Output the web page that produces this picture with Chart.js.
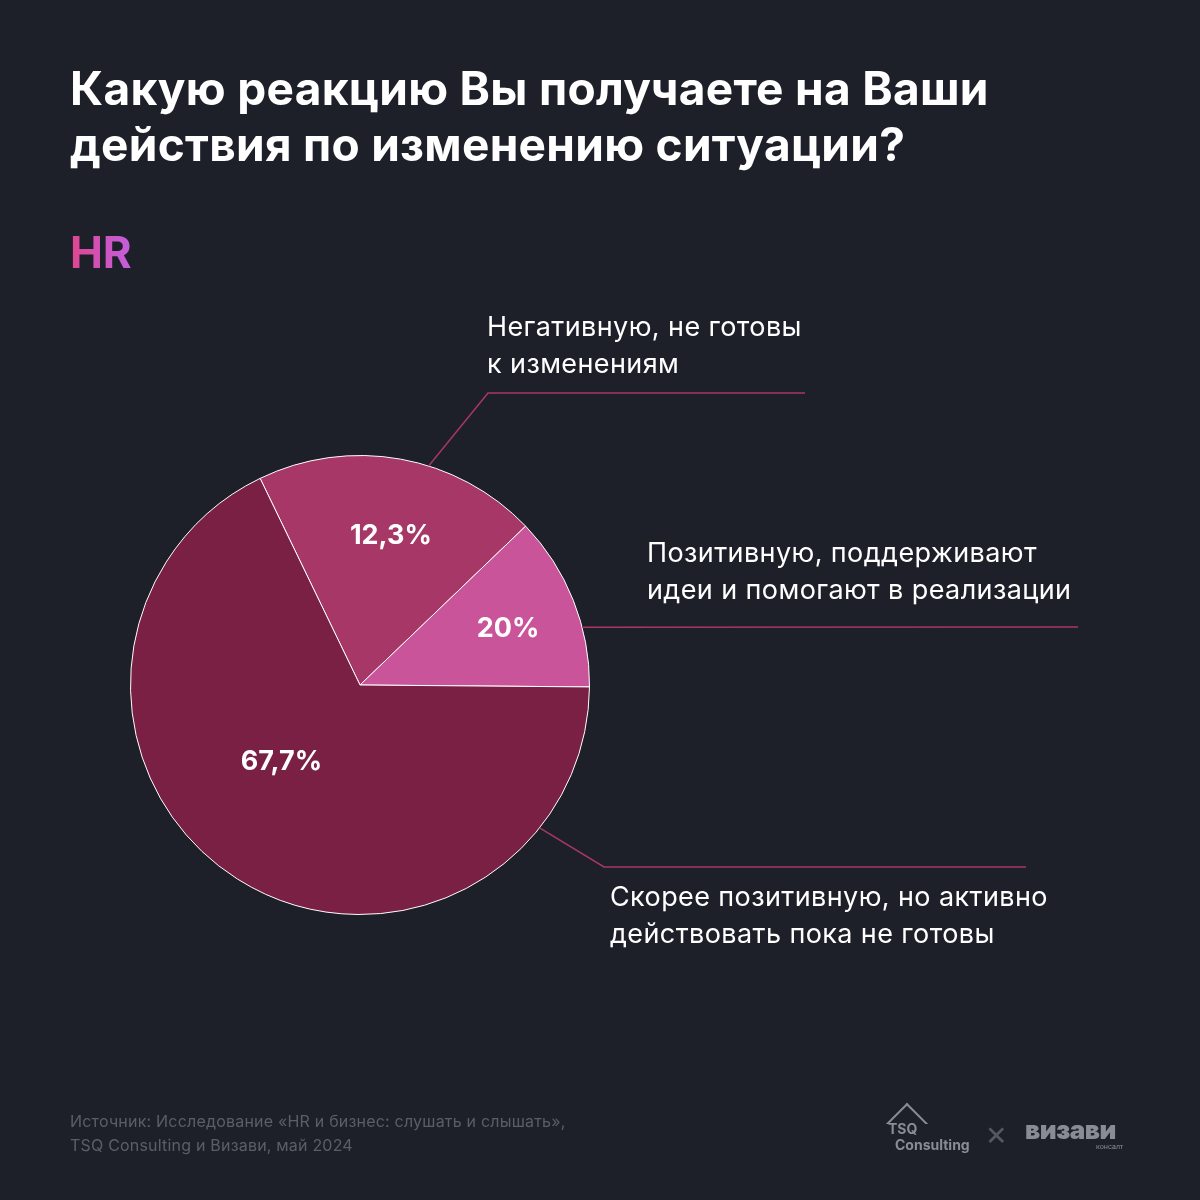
<!DOCTYPE html>
<html><head><meta charset="utf-8">
<script src="https://cdn.jsdelivr.net/npm/chart.js@4"></script>
<style>
body{margin:0;background:#1e2029;font-family:Inter,"Noto Sans",sans-serif;}
#wrap{position:relative;width:1200px;height:1200px;overflow:hidden;}
canvas{position:absolute;left:0;top:0;}
.t{position:absolute;color:#fff;}
h1{position:absolute;left:70px;top:60px;margin:0;font-size:46px;line-height:56px;font-weight:700;color:#fff;letter-spacing:0.3px}
#hr{left:70px;top:225px;font-size:44px;font-weight:700;background:linear-gradient(90deg,#e0458f,#c35fe0);-webkit-background-clip:text;color:transparent}
.lab{font-size:27px;line-height:37px;color:#fff;letter-spacing:0.4px}
.foot{left:70px;top:1109px;font-size:16px;line-height:24px;color:#5b5e69;letter-spacing:0.2px}
</style></head><body><div id="wrap">
<canvas id="c" width="1200" height="1200"></canvas>
<h1>Какую реакцию Вы получаете на Ваши<br>действия по изменению ситуации?</h1>
<div class="t" id="hr">HR</div>
<div class="t lab" style="left:487px;top:308px">Негативную, не готовы<br>к изменениям</div>
<div class="t lab" style="left:647px;top:534px">Позитивную, поддерживают<br>идеи и помогают в реализации</div>
<div class="t lab" style="left:610px;top:878px">Скорее позитивную, но активно<br>действовать пока не готовы</div>
<div class="t foot">Источник: Исследование «HR и бизнес: слушать и слышать»,<br>TSQ Consulting и Визави, май 2024</div>
<div class="t" style="left:880px;top:1103px;width:56px;height:56px;color:#8a8c93;font-size:14px;font-weight:700;line-height:16px">
<div style="position:absolute;left:12px;top:6px;width:26px;height:26px;border:2px solid #8a8c93;transform:rotate(45deg);border-bottom-color:transparent;border-right-color:transparent"></div>
<div style="position:absolute;top:18px;left:8px">TSQ</div><div style="position:absolute;top:34px;left:15px">Consulting</div></div>
<div class="t" style="left:985px;top:1112px;font-size:34px;color:#555862">×</div>
<div class="t" style="left:1025px;top:1114px;font-size:26px;font-weight:900;color:#8a8c93;letter-spacing:-0.5px">визави</div>
<div class="t" style="left:1096px;top:1142px;font-size:7px;color:#8a8c93">консалт</div>
</div>
<script>
const categories = ["Негативную, не готовы к изменениям", "Позитивную, поддерживают идеи и помогают в реализации", "Скорее позитивную, но активно действовать пока не готовы"];
const values = [20, 12.3, 67.7];
const shownLabels = ["12,3%", "20%", "67,7%"];
const colors = ["#a63766", "#c9549a", "#7a2044"];

const leaders = {
  id: "leaders",
  afterDatasetsDraw(chart) {
    const ctx = chart.ctx;
    const arcs = chart.getDatasetMeta(0).data;
    ctx.save();
    ctx.fillStyle = "#fff";
    ctx.font = "700 27px Inter";
    ctx.textAlign = "center";
    ctx.textBaseline = "middle";
    const rf = [0.665, 0.69, 0.48];
    const off = [0.026, 0.017, 0.23];
    arcs.forEach((a, i) => {
      const mid = (a.startAngle + a.endAngle) / 2 + off[i];
      const r = a.outerRadius * rf[i];
      ctx.fillText(shownLabels[i], a.x + Math.cos(mid) * r, a.y + Math.sin(mid) * r);
    });
    ctx.strokeStyle = "#a63766";
    ctx.lineWidth = 1.5;
    const paths = [
      [0.6, [[488, 393], [805, 393]]],
      [0.66, [[1078, 627]]],
      [0.156, [[604, 867], [1026, 867]]]
    ];
    arcs.forEach((a, i) => {
      const [f, pts] = paths[i];
      const ang = a.startAngle + (a.endAngle - a.startAngle) * f;
      ctx.beginPath();
      ctx.moveTo(a.x + Math.cos(ang) * a.outerRadius, a.y + Math.sin(ang) * a.outerRadius);
      pts.forEach(p => ctx.lineTo(p[0], p[1]));
      ctx.stroke();
    });
    ctx.restore();
  }
};

new Chart(document.getElementById("c"), {
  type: "pie",
  data: {
    labels: categories,
    datasets: [{ data: values, backgroundColor: colors, borderColor: "#ffffff", borderWidth: 1 }]
  },
  options: {
    responsive: false,
    animation: false,
    rotation: -25.8,
    layout: { padding: { left: 130, right: 610, top: 455, bottom: 285 } },
    plugins: { legend: { display: false }, tooltip: { enabled: false } }
  },
  plugins: [leaders]
});
</script></body></html>
